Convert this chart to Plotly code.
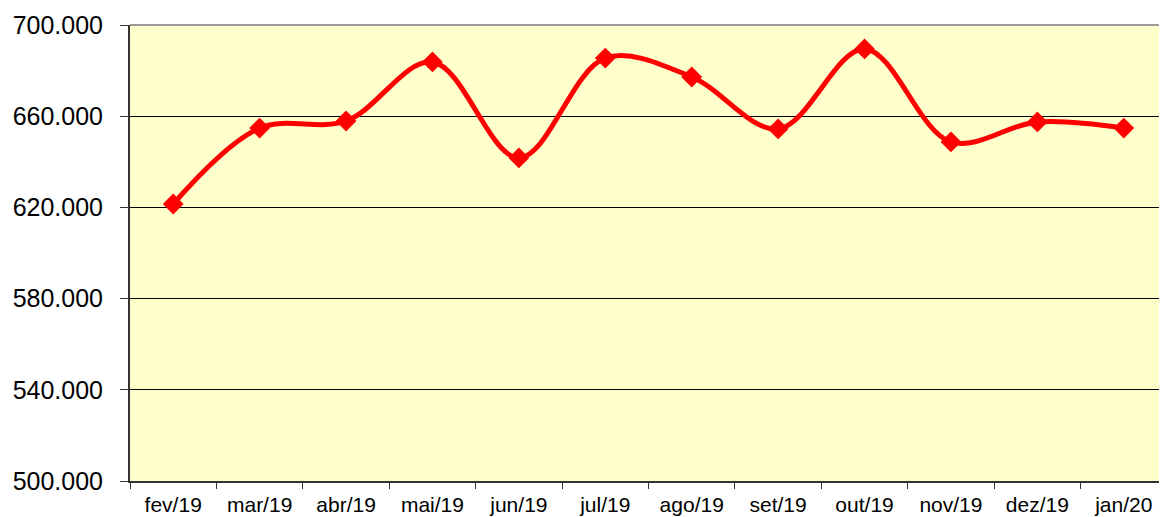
import plotly.graph_objects as go

months = ["fev/19", "mar/19", "abr/19", "mai/19", "jun/19", "jul/19",
          "ago/19", "set/19", "out/19", "nov/19", "dez/19", "jan/20"]
values = [621500, 654800, 657900, 683800, 641700, 685500,
          677200, 654400, 689500, 648700, 657500, 654800]
y_ticks = [500000, 540000, 580000, 620000, 660000, 700000]

fig = go.Figure()
fig.add_trace(go.Scatter(
    x=months, y=values, mode="lines+markers",
    line=dict(color="#FF0000", width=5, shape="spline", smoothing=1),
    marker=dict(symbol="diamond", size=16, color="#FF0000"),
    cliponaxis=False, showlegend=False,
))

# the page body has an 8px default margin, so the figure is sized to fit the window
fig.update_layout(
    width=1159, height=509,
    margin=dict(l=122, r=0, t=17, b=36, autoexpand=False),
    paper_bgcolor="white", plot_bgcolor="#FFFFCC",
    separators=",.",
    font=dict(family="Liberation Sans, Arial, sans-serif", color="black"),
    xaxis=dict(
        type="category", range=[-0.5, 11.5], tickson="boundaries",
        ticks="outside", ticklen=6, automargin=False, ticklabelstandoff=4,
        tickcolor="#333333", showgrid=False, showline=True, linecolor="#333333",
        linewidth=2, tickfont=dict(size=21), zeroline=False,
    ),
    yaxis=dict(
        range=[500000, 700000], tickvals=y_ticks, tickformat=",.0f",
        ticks="outside", ticklen=8, tickcolor="#333333", automargin=False,
        ticklabelstandoff=12,
        showgrid=True, gridcolor="black", gridwidth=1,
        showline=True, linecolor="#333333", linewidth=2,
        tickfont=dict(size=25), zeroline=False,
    ),
    shapes=[dict(type="line", xref="paper", yref="paper", x0=0, x1=1, y0=1, y1=1,
                 line=dict(color="#999999", width=2))],
)

fig.write_html("out.html")
